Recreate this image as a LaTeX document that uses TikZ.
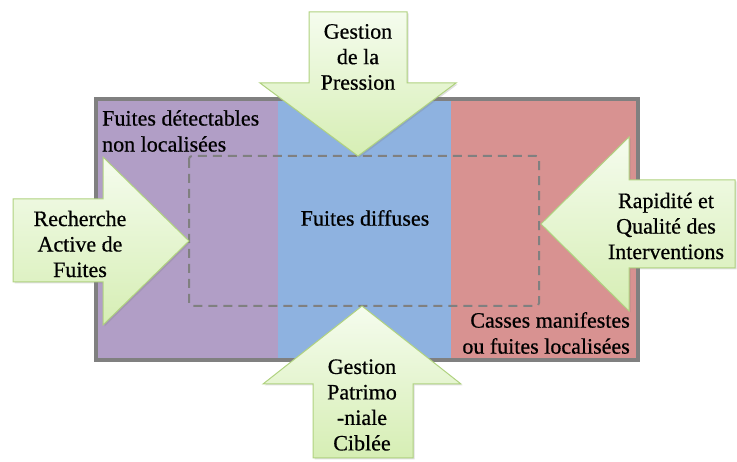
\documentclass[tikz,border=0pt]{standalone}
\usepackage{fontspec}
\newfontfamily\diagfont{Liberation Serif}[FakeBold=0.6]
\usepackage{xcolor}
\usepackage{tikz}
\usetikzlibrary{shapes.geometric, arrows, shadows}
\definecolor{zonepurple}{RGB}{177,158,198}
\definecolor{zoneblue}{RGB}{142,178,224}
\definecolor{zonered}{RGB}{216,146,145}
\definecolor{arrowtop}{RGB}{245,252,238}
\definecolor{arrowbot}{RGB}{214,238,180}
\definecolor{arrowline}{RGB}{176,210,128}
\tikzstyle{zonetext} = [inner sep=0pt, font=\diagfont\fontsize{22}{26}\selectfont]
\tikzstyle{actiontext} = [inner sep=0pt, align=center, font=\diagfont\fontsize{22}{25.5}\selectfont]
\tikzstyle{bigarrow} = [draw=arrowline, line width=1pt, top color=arrowtop, bottom color=arrowbot, drop shadow={opacity=0.25, shadow xshift=1.5pt, shadow yshift=-1.5pt}]
\tikzstyle{frame} = [draw=black!50, line width=3.5pt]
\tikzstyle{inner} = [draw=black!50, line width=2pt, dash pattern=on 9pt off 6pt, rounded corners=3pt]

\begin{document}
\begin{tikzpicture}[x=1pt, y=-1pt]
		\useasboundingbox (0,0) rectangle (737,462);
		
		% Zones
		\fill [zonepurple] (96,99) rectangle (278,360);
		\fill [zoneblue] (278,99) rectangle (451,360);
		\fill [zonered] (451,99) rectangle (638,360);
		\draw [frame] (96,99) rectangle (638,360);
		\draw [inner] (189,156) rectangle (539,306);
		
		% Arrows
		\draw [bigarrow] (309,12) -- (407,12) -- (407,83) -- (456,83) -- (358,156) -- (260,83) -- (309,83) -- cycle;
		\draw [bigarrow] (313,458) -- (413,458) -- (413,384) -- (461,384) -- (362,306) -- (263,384) -- (313,384) -- cycle;
		\draw [bigarrow] (13,199) -- (103,199) -- (103,157) -- (189,241) -- (103,325) -- (103,282) -- (13,282) -- cycle;
		\draw [bigarrow] (735,180) -- (629,180) -- (629,137) -- (541,224) -- (629,311) -- (629,268) -- (735,268) -- cycle;
		
		% Nodes
		\node (detectables) [zonetext, anchor=west, align=left] at (102,131) {Fuites détectables\\non localisées};
		\node (diffuses) [zonetext] at (365,218) {Fuites diffuses};
		\node (casses) [zonetext, anchor=east, align=right] at (630,333) {Casses manifestes\\ou fuites localisées};
		\node (pression) [actiontext] at (358,57) {Gestion\\de la\\Pression};
		\node (recherche) [actiontext] at (80,244) {Recherche\\Active de\\Fuites};
		\node (rapidite) [actiontext] at (666,226) {Rapidité et\\Qualité des\\Interventions};
		\node (patrimoine) [actiontext] at (362,405) {Gestion\\Patrimo\\-niale\\Ciblée};
		
	\end{tikzpicture}
\end{document}
